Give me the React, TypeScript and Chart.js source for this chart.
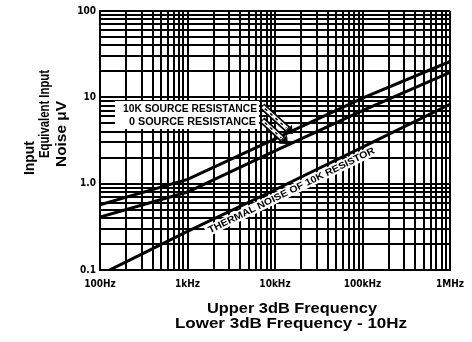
import React, { useEffect, useRef } from 'react';
import { Chart, registerables } from 'chart.js';

Chart.register(...registerables);

// ---- data ----
const freqHz = [100, 1000, 10000, 100000, 1000000];
const noise10kSource = [0.57, 1.12, 3.3, 9.8, 26];
const noise0Source = [0.41, 0.8, 2.4, 7.0, 19.5];
const thermal10kResistor = [0.088, 0.28, 0.85, 2.65, 8.3];

const xTickValues = [100, 1000, 10000, 100000, 1000000];
const xTickLabels = ['100Hz', '1kHz', '10kHz', '100kHz', '1MHz'];
const yTickValues = [0.1, 1, 10, 100];
const yTickLabels = ['0.1', '1.0', '10', '100'];

const yTitleLines = ['Input', 'Equivalent Input', 'Noise \u03BCV'];
const xTitleLines = ['Upper 3dB Frequency', 'Lower 3dB Frequency - 10Hz'];
const label10k = '10K SOURCE RESISTANCE';
const label0 = '0 SOURCE RESISTANCE';
const labelThermal = 'THERMAL NOISE OF 10K RESISTOR';

const COND = '"DejaVu Sans Condensed", "Liberation Sans Narrow", "DejaVu Sans", sans-serif';
const SANS = '"Liberation Sans", Arial, "DejaVu Sans", sans-serif';

function logGrid(min: number, max: number): number[] {
  const out: number[] = [];
  for (let d = min; d <= max * 1.0001; d *= 10) {
    for (let m = 1; m <= 9; m++) {
      const v = Number((m * d).toPrecision(6));
      if (v <= max * 1.0001) out.push(v);
    }
  }
  return out;
}

function labelFor(v: number, values: number[], labels: string[]) {
  for (let i = 0; i < values.length; i++) {
    if (Math.abs(v - values[i]) / values[i] < 1e-6) return labels[i];
  }
  return '';
}

function fitText(ctx: CanvasRenderingContext2D, text: string, cx: number, cy: number, w: number, font: string) {
  ctx.save();
  ctx.font = font;
  const m = ctx.measureText(text).width;
  ctx.translate(cx, cy);
  ctx.scale(w / m, 1);
  ctx.textAlign = 'center';
  ctx.textBaseline = 'middle';
  ctx.fillStyle = '#000';
  ctx.fillText(text, 0, 0);
  ctx.restore();
}

function thermalAt(f: number) {
  const lf = Math.log10(f);
  for (let i = 0; i < freqHz.length - 1; i++) {
    const a = Math.log10(freqHz[i]);
    const b = Math.log10(freqHz[i + 1]);
    if (lf >= a && lf <= b) {
      const t = (lf - a) / (b - a);
      return Math.pow(10, Math.log10(thermal10kResistor[i]) * (1 - t) + Math.log10(thermal10kResistor[i + 1]) * t);
    }
  }
  return thermal10kResistor[thermal10kResistor.length - 1];
}

function drawArrow(ctx: CanvasRenderingContext2D, x1: number, y1: number, x2: number, y2: number) {
  const ang = Math.atan2(y2 - y1, x2 - x1);
  const hx = x2 - 7 * Math.cos(ang);
  const hy = y2 - 7 * Math.sin(ang);
  ctx.save();
  ctx.lineCap = 'butt';
  ctx.strokeStyle = '#000';
  ctx.lineWidth = 7;
  ctx.beginPath();
  ctx.moveTo(x1, y1);
  ctx.lineTo(hx, hy);
  ctx.stroke();
  ctx.strokeStyle = '#fff';
  ctx.lineWidth = 3.5;
  ctx.beginPath();
  ctx.moveTo(x1 + Math.cos(ang), y1 + Math.sin(ang));
  ctx.lineTo(hx - Math.cos(ang), hy - Math.sin(ang));
  ctx.stroke();
  ctx.strokeStyle = '#000';
  ctx.lineWidth = 1.5;
  ctx.setLineDash([3, 4]);
  ctx.beginPath();
  ctx.moveTo(x1 + 4 * Math.cos(ang), y1 + 4 * Math.sin(ang));
  ctx.lineTo(hx - 2 * Math.cos(ang), hy - 2 * Math.sin(ang));
  ctx.stroke();
  ctx.setLineDash([]);
  ctx.fillStyle = '#000';
  ctx.beginPath();
  ctx.moveTo(x2, y2);
  ctx.lineTo(hx + 6 * Math.cos(ang + Math.PI / 2), hy + 6 * Math.sin(ang + Math.PI / 2));
  ctx.lineTo(hx - 6 * Math.cos(ang + Math.PI / 2), hy - 6 * Math.sin(ang + Math.PI / 2));
  ctx.closePath();
  ctx.fill();
  ctx.restore();
}

const annotations = {
  id: 'annotations',
  afterDraw(chart: any) {
    const ctx: CanvasRenderingContext2D = chart.ctx;
    const xs = chart.scales.x;
    const ys = chart.scales.y;

    // source resistance labels on white box
    ctx.save();
    ctx.fillStyle = '#fff';
    ctx.fillRect(115, 101, 144, 28);
    ctx.restore();
    fitText(ctx, label10k, 190, 109, 134, `bold 10px ${SANS}`);
    fitText(ctx, label0, 192.5, 122.5, 127, `bold 10px ${SANS}`);
    drawArrow(ctx, 262, 106, 293, 134);
    drawArrow(ctx, 262, 120, 288, 144);

    // thermal label along the thermal line
    const p1x = xs.getPixelForValue(10000);
    const p1y = ys.getPixelForValue(thermalAt(10000));
    const p2x = xs.getPixelForValue(100000);
    const p2y = ys.getPixelForValue(thermalAt(100000));
    const theta = Math.atan2(p1y - p2y, p2x - p1x);
    const midX = 288;
    const midY = ys.getPixelForValue(thermalAt(xs.getValueForPixel(midX)));
    const off = 7.5;
    const cx = midX + off * Math.sin(theta);
    const cy = midY + off * Math.cos(theta);
    ctx.save();
    ctx.translate(cx, cy);
    ctx.rotate(-theta);
    ctx.fillStyle = '#fff';
    ctx.fillRect(-95, -5, 190, 10.5);
    ctx.restore();
    ctx.save();
    ctx.translate(cx, cy);
    ctx.rotate(-theta);
    fitText(ctx, labelThermal, 0, 0.5, 184, `bold 9.5px ${SANS}`);
    ctx.restore();

    // y title (rotated)
    const yPos = [
      { x: 30, y: 158, w: 34 },
      { x: 45, y: 114, w: 88 },
      { x: 62, y: 134, w: 66 },
    ];
    yTitleLines.forEach((t, i) => {
      ctx.save();
      ctx.translate(yPos[i].x, yPos[i].y);
      ctx.rotate(-Math.PI / 2);
      fitText(ctx, t, 0, 0, yPos[i].w, `bold 14px ${SANS}`);
      ctx.restore();
    });

    // x title
    fitText(ctx, xTitleLines[0], 292, 309, 170, `bold 15px ${SANS}`);
    fitText(ctx, xTitleLines[1], 291, 324, 232, `bold 15px ${SANS}`);
  },
};

export default function App() {
  const ref = useRef<HTMLCanvasElement>(null);
  useEffect(() => {
    document.body.style.margin = '0';
    const xGrid = logGrid(100, 1000000);
    const yGrid = logGrid(0.1, 100);
    const mk = (vals: number[]) => freqHz.map((f, i) => ({ x: f, y: vals[i] }));
    const chart = new Chart(ref.current!, {
      type: 'line',
      data: {
        datasets: [
          { label: '10K source', data: mk(noise10kSource), borderColor: '#000', borderWidth: 3 },
          { label: '0 source', data: mk(noise0Source), borderColor: '#000', borderWidth: 3 },
          { label: 'thermal', data: mk(thermal10kResistor), borderColor: '#000', borderWidth: 3 },
        ],
      },
      options: {
        responsive: false,
        animation: false,
        devicePixelRatio: 1,
        layout: { padding: { top: 11, right: 14, left: 0, bottom: 0 } },
        elements: { point: { radius: 0 }, line: { tension: 0 } },
        plugins: { legend: { display: false }, tooltip: { enabled: false } },
        scales: {
          x: {
            type: 'logarithmic',
            min: 100,
            max: 1000000,
            afterBuildTicks: (s: any) => {
              s.ticks = xGrid.map((v) => ({ value: v }));
            },
            afterFit: (s: any) => {
              s.height = 72;
            },
            grid: { color: '#000', lineWidth: 2, drawTicks: false },
            border: { color: '#000', width: 2 },
            ticks: {
              autoSkip: false,
              maxRotation: 0,
              minRotation: 0,
              color: '#000',
              padding: 8,
              font: { family: COND, size: 10, weight: 'bold' },
              callback: (v: any) => labelFor(Number(v), xTickValues, xTickLabels),
            },
          },
          y: {
            type: 'logarithmic',
            min: 0.1,
            max: 100,
            afterBuildTicks: (s: any) => {
              s.ticks = yGrid.map((v) => ({ value: v }));
            },
            afterFit: (s: any) => {
              s.width = 100;
            },
            grid: { color: '#000', lineWidth: 2, drawTicks: false },
            border: { color: '#000', width: 2 },
            ticks: {
              autoSkip: false,
              color: '#000',
              padding: 4,
              font: { family: COND, size: 10, weight: 'bold' },
              callback: (v: any) => labelFor(Number(v), yTickValues, yTickLabels),
            },
          },
        },
      } as any,
      plugins: [annotations],
    });
    return () => chart.destroy();
  }, []);
  return (
    <div style={{ width: 472, height: 342, background: '#fff' }}>
      <canvas ref={ref} width={472} height={342} style={{ width: 472, height: 342, display: 'block' }} />
    </div>
  );
}
